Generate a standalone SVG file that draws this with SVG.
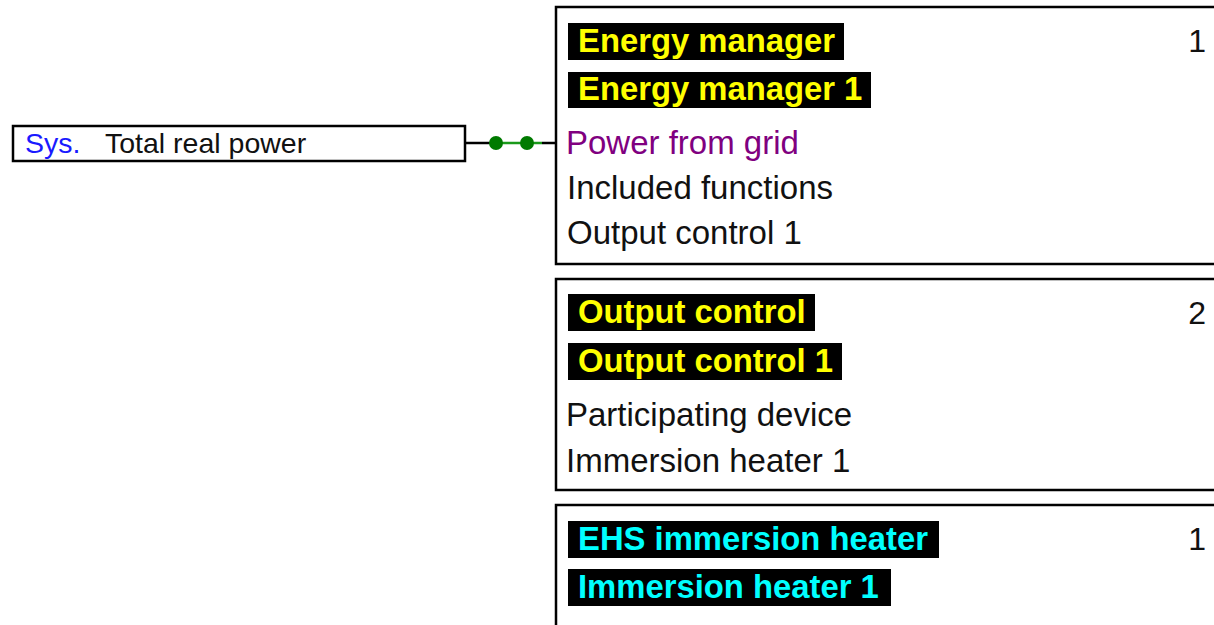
<svg xmlns="http://www.w3.org/2000/svg" width="1214" height="625" viewBox="0 0 1214 625">
<style>
.box{fill:#fff;stroke:#000;stroke-width:2.5}
.t{font-family:"Liberation Sans",Arial,sans-serif;font-size:33px;fill:#111}
.b{font-family:"Liberation Sans",Arial,sans-serif;font-size:32.8px;font-weight:bold}
.y{fill:#ffff00}
.c{fill:#00ffff}
.bg{fill:#000}
.s{font-family:"Liberation Sans",Arial,sans-serif;font-size:28.5px;fill:#111}
.num{font-family:"Liberation Sans",Arial,sans-serif;font-size:32px;fill:#111;text-anchor:end}
</style>
<rect width="1214" height="625" fill="#fff"/>
<g id="sys-total-real-power">
<rect class="box" x="13" y="126" width="452" height="35"/>
<text class="s" x="25" y="153"><tspan fill="#1a1aff">Sys.</tspan><tspan x="105">Total real power</tspan></text>
</g>
<g id="connectors">
<line x1="465" y1="143" x2="497" y2="143" stroke="#000" stroke-width="2.5"/>
<line x1="497" y1="143" x2="542" y2="143" stroke="#1a9a1a" stroke-width="2.5"/>
<line x1="542" y1="143" x2="556" y2="143" stroke="#000" stroke-width="2.5"/>
<circle cx="496" cy="143" r="7" fill="#007a00"/>
<circle cx="527" cy="143" r="7" fill="#007a00"/>
</g>
<g id="energy-manager">
<rect class="box" x="556" y="7" width="680" height="257"/>
<rect class="bg" x="568" y="23" width="276" height="37"/>
<text class="b y" x="578" y="52">Energy manager</text>
<rect class="bg" x="568" y="72" width="303" height="36"/>
<text class="b y" x="578" y="100">Energy manager 1</text>
<text class="t" x="566" y="154" style="fill:#800080">Power from grid</text>
<text class="t" x="567" y="199">Included functions</text>
<text class="t" x="567" y="244">Output control 1</text>
<text class="num" x="1206" y="52">1</text>
</g>
<g id="output-control">
<rect class="box" x="556" y="279" width="680" height="211"/>
<rect class="bg" x="568" y="294" width="247" height="37"/>
<text class="b y" x="578" y="323">Output control</text>
<rect class="bg" x="568" y="343" width="274" height="37"/>
<text class="b y" x="578" y="372">Output control 1</text>
<text class="t" x="566" y="426">Participating device</text>
<text class="t" x="566" y="472">Immersion heater 1</text>
<text class="num" x="1206" y="324">2</text>
</g>
<g id="ehs-immersion-heater">
<rect class="box" x="556" y="505" width="680" height="140"/>
<rect class="bg" x="568" y="521" width="371" height="37"/>
<text class="b c" x="578" y="550">EHS immersion heater</text>
<rect class="bg" x="568" y="569" width="323" height="37"/>
<text class="b c" x="578" y="598">Immersion heater 1</text>
<text class="num" x="1206" y="550">1</text>
</g>
</svg>
